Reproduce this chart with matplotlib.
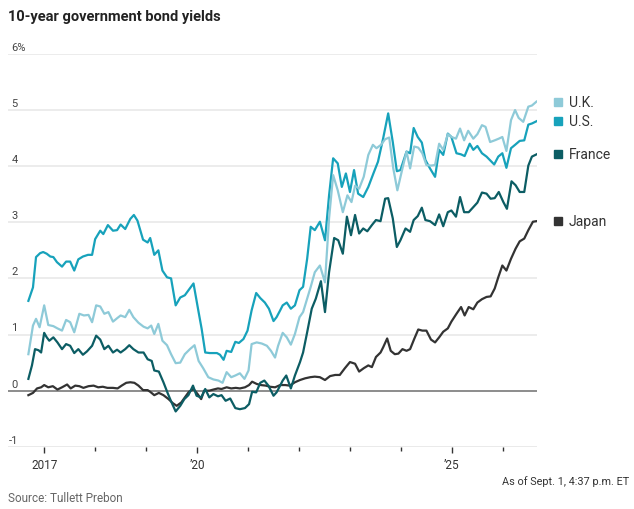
import matplotlib.pyplot as plt
import matplotlib.transforms as mtransforms

plt.rcParams['font.family'] = ['Roboto', 'DejaVu Sans']

# decimal-year positions and yields (%)
us_x = [2016.69, 2016.78, 2016.84, 2016.92, 2016.98, 2017.05, 2017.12, 2017.18, 2017.25, 2017.35,
        2017.43, 2017.51, 2017.59, 2017.67, 2017.76, 2017.86, 2017.94, 2018.00, 2018.10, 2018.16,
        2018.25, 2018.35, 2018.43, 2018.50, 2018.59, 2018.69, 2018.76, 2018.83, 2018.94, 2019.03,
        2019.08, 2019.16, 2019.24, 2019.32, 2019.41, 2019.49, 2019.58, 2019.67, 2019.76, 2019.84,
        2019.93, 2020.03, 2020.09, 2020.16, 2020.25, 2020.39, 2020.45, 2020.52, 2020.58, 2020.67,
        2020.75, 2020.82, 2020.91, 2020.99, 2021.07, 2021.16, 2021.24, 2021.33, 2021.41, 2021.50,
        2021.56, 2021.63, 2021.68, 2021.76, 2021.84, 2021.92, 2022.01, 2022.08, 2022.16, 2022.23,
        2022.31, 2022.41, 2022.51, 2022.59, 2022.67, 2022.76, 2022.84, 2022.92, 2023.00, 2023.08,
        2023.16, 2023.26, 2023.36, 2023.46, 2023.55, 2023.65, 2023.75, 2023.84, 2023.92, 2023.99,
        2024.11, 2024.18, 2024.25, 2024.33, 2024.41, 2024.48, 2024.57, 2024.67, 2024.75, 2024.83,
        2024.92, 2024.99, 2025.09, 2025.18, 2025.25, 2025.35, 2025.42, 2025.50, 2025.59, 2025.68,
        2025.83, 2025.91, 2025.99, 2026.07, 2026.16, 2026.24, 2026.33, 2026.42, 2026.50, 2026.57,
        2026.66]
us_y = [1.60, 1.84, 2.38, 2.45, 2.47, 2.44, 2.39, 2.38, 2.29, 2.21,
        2.30, 2.30, 2.14, 2.34, 2.39, 2.42, 2.42, 2.70, 2.85, 2.79,
        2.95, 2.85, 2.86, 2.96, 2.88, 3.06, 3.13, 3.03, 2.69, 2.64,
        2.72, 2.42, 2.50, 2.14, 2.02, 2.00, 1.52, 1.66, 1.70, 1.80,
        1.91, 1.40, 1.10, 0.68, 0.67, 0.67, 0.64, 0.55, 0.71, 0.69,
        0.87, 0.85, 0.92, 1.07, 1.43, 1.74, 1.65, 1.57, 1.46, 1.24,
        1.31, 1.43, 1.52, 1.57, 1.46, 1.52, 1.79, 1.85, 2.35, 2.92,
        2.86, 3.01, 2.68, 3.48, 4.14, 4.05, 3.63, 3.87, 3.54, 3.93,
        3.51, 3.45, 3.63, 3.87, 4.08, 4.49, 4.94, 4.43, 3.91, 3.93,
        4.26, 4.23, 4.68, 4.52, 4.42, 4.11, 3.96, 3.81, 4.29, 4.20,
        4.58, 4.52, 4.23, 4.21, 4.18, 4.40, 4.29, 4.36, 4.23, 4.17,
        4.03, 4.17, 4.23, 3.97, 4.32, 4.38, 4.45, 4.46, 4.74, 4.76,
        4.80]

uk_x = [2016.69, 2016.78, 2016.84, 2016.91, 2017.00, 2017.08, 2017.18, 2017.26, 2017.35, 2017.43,
        2017.51, 2017.59, 2017.69, 2017.78, 2017.87, 2017.94, 2018.02, 2018.10, 2018.18, 2018.26,
        2018.35, 2018.43, 2018.50, 2018.59, 2018.67, 2018.75, 2018.85, 2018.95, 2019.03, 2019.10,
        2019.16, 2019.24, 2019.32, 2019.41, 2019.49, 2019.58, 2019.67, 2019.76, 2019.86, 2019.95,
        2020.03, 2020.12, 2020.22, 2020.32, 2020.42, 2020.50, 2020.58, 2020.67, 2020.75, 2020.84,
        2020.93, 2021.01, 2021.07, 2021.17, 2021.27, 2021.37, 2021.45, 2021.53, 2021.59, 2021.68,
        2021.76, 2021.84, 2021.92, 2022.01, 2022.08, 2022.16, 2022.23, 2022.31, 2022.41, 2022.51,
        2022.59, 2022.67, 2022.76, 2022.86, 2022.95, 2023.03, 2023.10, 2023.18, 2023.27, 2023.36,
        2023.45, 2023.52, 2023.61, 2023.69, 2023.77, 2023.85, 2023.93, 2024.03, 2024.11, 2024.18,
        2024.26, 2024.34, 2024.42, 2024.50, 2024.59, 2024.67, 2024.75, 2024.83, 2024.92, 2024.99,
        2025.08, 2025.16, 2025.24, 2025.32, 2025.42, 2025.50, 2025.59, 2025.66, 2025.75, 2025.84,
        2025.92, 2025.99, 2026.07, 2026.16, 2026.24, 2026.31, 2026.40, 2026.50, 2026.57, 2026.66]
uk_y = [0.65, 1.16, 1.28, 1.13, 1.52, 1.17, 1.15, 1.11, 1.07, 1.26,
        1.22, 1.04, 1.37, 1.34, 1.35, 1.22, 1.52, 1.50, 1.37, 1.40,
        1.23, 1.29, 1.34, 1.31, 1.44, 1.31, 1.21, 1.14, 1.11, 1.16,
        1.01, 1.19, 0.89, 0.81, 0.65, 0.49, 0.50, 0.65, 0.74, 0.81,
        0.53, 0.40, 0.24, 0.20, 0.18, 0.14, 0.33, 0.24, 0.27, 0.31,
        0.21, 0.36, 0.83, 0.86, 0.84, 0.80, 0.71, 0.59, 0.80, 1.03,
        0.95, 0.82, 1.01, 1.31, 1.40, 1.64, 1.85, 2.11, 2.23, 1.93,
        3.07, 3.84, 3.57, 3.18, 3.48, 3.36, 3.65, 3.60, 3.81, 4.20,
        4.38, 4.32, 4.38, 4.48, 4.51, 3.96, 3.57, 3.96, 4.26, 3.96,
        4.35, 4.33, 4.23, 4.02, 4.01, 4.02, 4.40, 4.29, 4.57, 4.52,
        4.49, 4.67, 4.46, 4.63, 4.49, 4.57, 4.73, 4.70, 4.43, 4.46,
        4.49, 4.52, 4.27, 4.82, 5.00, 4.86, 4.79, 5.06, 5.08, 5.15]

france_x = [2016.69, 2016.76, 2016.82, 2016.89, 2016.94, 2017.00, 2017.05, 2017.10, 2017.18, 2017.26,
            2017.35, 2017.43, 2017.51, 2017.59, 2017.67, 2017.76, 2017.84, 2017.94, 2018.02, 2018.10,
            2018.18, 2018.26, 2018.35, 2018.43, 2018.50, 2018.59, 2018.67, 2018.75, 2018.85, 2018.95,
            2019.03, 2019.11, 2019.16, 2019.25, 2019.34, 2019.43, 2019.50, 2019.58, 2019.67, 2019.75,
            2019.83, 2019.92, 2019.99, 2020.08, 2020.16, 2020.24, 2020.32, 2020.41, 2020.48, 2020.56,
            2020.65, 2020.75, 2020.84, 2020.94, 2021.02, 2021.08, 2021.16, 2021.24, 2021.32, 2021.40,
            2021.50, 2021.56, 2021.63, 2021.68, 2021.75, 2021.84, 2021.92, 2022.02, 2022.08, 2022.16,
            2022.25, 2022.33, 2022.43, 2022.51, 2022.59, 2022.69, 2022.77, 2022.86, 2022.94, 2023.02,
            2023.10, 2023.18, 2023.26, 2023.34, 2023.43, 2023.51, 2023.60, 2023.69, 2023.75, 2023.84,
            2023.92, 2023.99, 2024.09, 2024.18, 2024.25, 2024.33, 2024.41, 2024.48, 2024.57, 2024.67,
            2024.75, 2024.83, 2024.92, 2024.99, 2025.08, 2025.16, 2025.24, 2025.33, 2025.42, 2025.50,
            2025.59, 2025.68, 2025.76, 2025.84, 2025.92, 2026.01, 2026.08, 2026.17, 2026.25, 2026.33,
            2026.42, 2026.50, 2026.57, 2026.66]
france_y = [0.21, 0.45, 0.74, 0.72, 0.68, 1.03, 0.95, 0.89, 0.95, 0.86,
            0.74, 0.83, 0.80, 0.67, 0.74, 0.64, 0.70, 0.80, 0.98, 0.91,
            0.74, 0.80, 0.68, 0.73, 0.68, 0.74, 0.81, 0.74, 0.68, 0.68,
            0.56, 0.53, 0.36, 0.34, 0.15, -0.06, -0.21, -0.37, -0.27, -0.15,
            -0.08, 0.09, -0.09, -0.12, 0.03, -0.12, -0.06, -0.10, -0.08, -0.18,
            -0.14, -0.31, -0.33, -0.31, -0.24, -0.02, -0.03, 0.14, 0.18, 0.09,
            -0.09, -0.03, 0.09, 0.18, 0.27, 0.04, 0.27, 0.51, 0.68, 1.04,
            1.46, 1.64, 1.95, 1.40, 2.11, 2.72, 2.68, 2.44, 3.10, 2.77,
            3.13, 2.80, 2.89, 2.84, 2.95, 3.04, 3.02, 3.42, 3.43, 3.07,
            2.56, 2.68, 2.89, 2.83, 3.04, 3.11, 3.26, 3.04, 3.02, 2.95,
            3.14, 2.93, 3.18, 3.21, 3.10, 3.45, 3.18, 3.18, 3.27, 3.35,
            3.53, 3.51, 3.42, 3.43, 3.54, 3.36, 3.24, 3.73, 3.66, 3.54,
            3.54, 4.01, 4.17, 4.21]

japan_x = [2016.69, 2016.78, 2016.86, 2016.94, 2017.00, 2017.08, 2017.17, 2017.26, 2017.35, 2017.45,
           2017.52, 2017.61, 2017.69, 2017.77, 2017.87, 2017.97, 2018.06, 2018.15, 2018.24, 2018.35,
           2018.44, 2018.52, 2018.61, 2018.69, 2018.77, 2018.85, 2018.94, 2019.03, 2019.08, 2019.16,
           2019.25, 2019.34, 2019.44, 2019.52, 2019.60, 2019.69, 2019.76, 2019.84, 2019.93, 2020.01,
           2020.08, 2020.14, 2020.24, 2020.32, 2020.41, 2020.48, 2020.58, 2020.67, 2020.76, 2020.84,
           2020.94, 2021.02, 2021.08, 2021.17, 2021.25, 2021.35, 2021.43, 2021.53, 2021.63, 2021.73,
           2021.82, 2021.92, 2022.02, 2022.12, 2022.22, 2022.31, 2022.41, 2022.51, 2022.61, 2022.71,
           2022.80, 2022.90, 2023.00, 2023.10, 2023.18, 2023.27, 2023.36, 2023.43, 2023.51, 2023.60,
           2023.65, 2023.73, 2023.80, 2023.88, 2023.95, 2024.03, 2024.11, 2024.18, 2024.26, 2024.34,
           2024.42, 2024.50, 2024.59, 2024.67, 2024.75, 2024.83, 2024.92, 2024.99, 2025.09, 2025.18,
           2025.25, 2025.33, 2025.42, 2025.50, 2025.59, 2025.68, 2025.76, 2025.84, 2025.91, 2025.99,
           2026.07, 2026.16, 2026.25, 2026.33, 2026.42, 2026.50, 2026.59, 2026.66]
japan_y = [-0.08, -0.04, 0.04, 0.06, 0.10, 0.06, 0.08, 0.02, 0.06, 0.11,
           0.04, 0.09, 0.08, 0.05, 0.08, 0.09, 0.06, 0.07, 0.05, 0.05,
           0.04, 0.09, 0.14, 0.15, 0.14, 0.09, 0.01, 0.01, -0.02, -0.08,
           -0.04, -0.08, -0.15, -0.22, -0.27, -0.21, -0.12, -0.02, 0.03, -0.06,
           -0.15, 0.00, 0.00, 0.02, 0.04, 0.03, 0.06, 0.04, 0.05, 0.04,
           0.06, 0.10, 0.16, 0.12, 0.10, 0.09, 0.07, 0.06, 0.10, 0.10,
           0.09, 0.15, 0.19, 0.22, 0.24, 0.25, 0.24, 0.19, 0.26, 0.28,
           0.28, 0.40, 0.51, 0.48, 0.34, 0.40, 0.45, 0.42, 0.60, 0.68,
           0.77, 0.93, 0.71, 0.65, 0.66, 0.74, 0.71, 0.74, 0.92, 1.09,
           1.07, 1.07, 0.91, 0.86, 0.95, 1.05, 1.11, 1.23, 1.37, 1.49,
           1.34, 1.49, 1.45, 1.57, 1.63, 1.67, 1.68, 1.82, 2.02, 2.23,
           2.14, 2.35, 2.53, 2.66, 2.71, 2.86, 3.01, 3.02]

names = ['U.K.', 'U.S.', 'France', 'Japan']
colors = ['#8ecad8', '#17a2bb', '#0c5d64', '#333333']
series_x = [uk_x, us_x, france_x, japan_x]
series_y = [uk_y, us_y, france_y, japan_y]

y_ticks = [-1, 0, 1, 2, 3, 4, 5, 6]
y_labels = ['-1', '0', '1', '2', '3', '4', '5', '6%']
x_major = [2017, 2020, 2025]
x_major_labels = ['2017', '\u201920', '\u201925']
x_minor = [2018, 2019, 2021, 2022, 2023, 2024, 2026]

fig = plt.figure(figsize=(6.34, 5.10), dpi=100)
ax = fig.add_axes([8 / 634, 1 - 447.8 / 510, 529 / 634, (447.8 - 54.9) / 510])

for v in y_ticks:
    if v == 0:
        ax.axhline(v, color='#8c8c8c', lw=1.4, zorder=1)
    elif v == -1:
        ax.axhline(v, color='#e4e4e4', lw=1.8, zorder=1)
    else:
        ax.axhline(v, color='#ececec', lw=1.4, zorder=1)

# draw back to front
for i in [3, 2, 1, 0]:
    ax.plot(series_x[i], series_y[i], color=colors[i], lw=1.6, zorder=3,
            solid_joinstyle='round')

ax.set_xlim(2016.29, 2026.67)
ax.set_ylim(-1, 6)
for s in ax.spines.values():
    s.set_visible(False)

ax.set_yticks([])
trans = mtransforms.blended_transform_factory(ax.transAxes, ax.transData)
for v, lab in zip(y_ticks, y_labels):
    dx = -3 if v < 0 else 0
    ax.annotate(lab, xy=(0, v), xycoords=trans, xytext=(2.5 + dx * 0.72, 1.5),
                textcoords='offset points', ha='left', va='bottom',
                fontsize=8, color='#444444')

ax.set_xticks(x_major)
ax.set_xticklabels(x_major_labels)
ax.set_xticks(x_minor, minor=True)
ax.tick_params(axis='x', which='major', length=4, width=1, color='#333333',
               pad=4, labelsize=8.5, labelcolor='#333333')
ax.tick_params(axis='x', which='minor', length=3, width=1, color='#333333')

# end-of-line labels with colour squares
for name, c, ys in zip(names, colors, series_y):
    sq = mtransforms.offset_copy(trans, fig=fig, x=20.5, y=0, units='dots')
    ax.plot([1.0], [ys[-1]], marker='s', markersize=6.2, color=c,
            transform=sq, clip_on=False, linestyle='none')
    ax.annotate(name, xy=(1.0, ys[-1]), xycoords=trans, xytext=(23, 0),
                textcoords='offset points', ha='left', va='center',
                fontsize=10, color='#333333')

fig.text(8 / 634, 1 - 17 / 510, '10-year government bond yields', fontsize=10.5,
         fontweight='bold', color='#222222', ha='left', va='center')
fig.text(8 / 634, 1 - 499 / 510, 'Source: Tullett Prebon', fontsize=8.5,
         color='#666666', ha='left', va='center')
fig.text(629 / 634, 1 - 481.7 / 510, 'As of Sept. 1, 4:37 p.m. ET', fontsize=7.8,
         color='#333333', ha='right', va='center')

fig.savefig('out.png', dpi=100)
